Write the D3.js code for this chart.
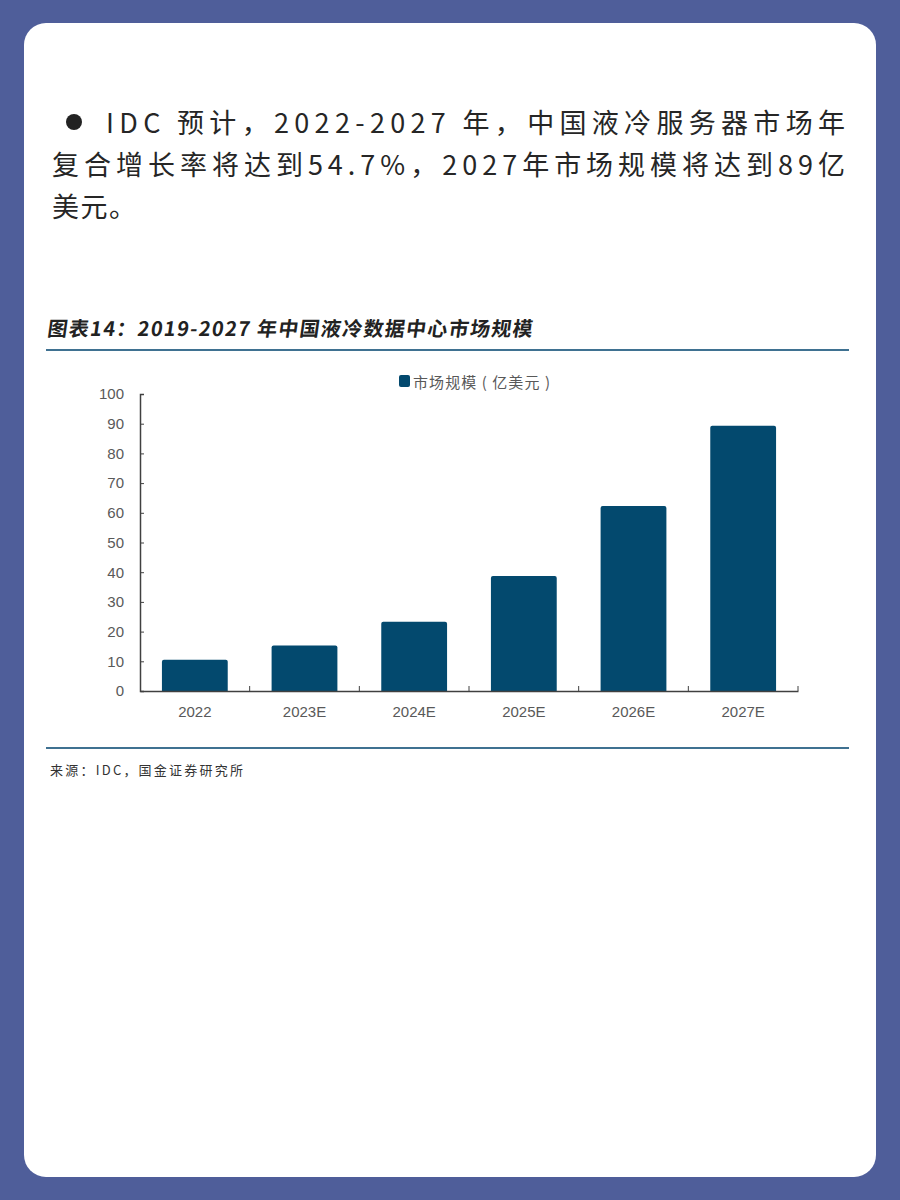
<!DOCTYPE html>
<html>
<head>
  <meta charset="UTF-8">
  <title>液冷数据中心市场规模</title>
  <script src="https://d3js.org/d3.v7.min.js"></script>
  <style>
    body { margin: 0; background: #4f5e9a; }
  </style>
</head>
<body>
  <script>
    // data
    var years = ["2022", "2023E", "2024E", "2025E", "2026E", "2027E"];
    var marketSize = [10.5, 15.3, 23.3, 38.7, 62.3, 89.3];
    var yTicks = [0, 10, 20, 30, 40, 50, 60, 70, 80, 90, 100];
    var introLines = [
      "IDC 预计，2022-2027 年，中国液冷服务器市场年",
      "复合增长率将达到54.7%，2027年市场规模将达到89亿",
      "美元。"
    ];
    var chartTitle = "图表14：2019-2027 年中国液冷数据中心市场规模";
    var legendLabel = "市场规模 ( 亿美元 )";
    var sourceText = "来源：IDC，国金证券研究所";

    var W = 900, H = 1200;
    var cjk = "'Noto Sans CJK SC', 'Noto Sans', sans-serif";
    var latin = "'Liberation Sans', Arial, sans-serif";

    var svg = d3.select("body").append("svg")
      .attr("width", W)
      .attr("height", H);

    svg.append("rect").attr("width", W).attr("height", H).attr("fill", "#4f5e9a");

    // white card
    svg.append("rect")
      .attr("x", 24).attr("y", 23)
      .attr("width", 852).attr("height", 1154)
      .attr("rx", 22)
      .attr("fill", "#ffffff");

    // intro paragraph
    svg.append("circle")
      .attr("cx", 74).attr("cy", 122).attr("r", 8)
      .attr("fill", "#222");

    var introStart = [106, 52, 52];
    var introLen = [739, 793, 84];
    svg.selectAll(".intro")
      .data(introLines)
      .enter()
      .append("text")
      .attr("class", "intro")
      .attr("x", function (d, i) { return introStart[i]; })
      .attr("y", function (d, i) { return 133 + i * 42; })
      .attr("font-family", cjk)
      .attr("font-size", 27)
      .attr("fill", "#262626")
      .attr("textLength", function (d, i) { return introLen[i]; })
      .attr("lengthAdjust", "spacing")
      .text(function (d) { return d; });

    // figure title
    svg.append("text")
      .attr("x", 50).attr("y", 336)
      .attr("font-family", cjk)
      .attr("font-size", 20)
      .attr("font-weight", "bold")
      .attr("transform", "translate(44,0) skewX(-8)")
      .attr("textLength", 485)
      .attr("lengthAdjust", "spacing")
      .attr("fill", "#222")
      .text(chartTitle);

    svg.append("line")
      .attr("x1", 46).attr("x2", 849).attr("y1", 350).attr("y2", 350)
      .attr("stroke", "#3f7191").attr("stroke-width", 2);
    svg.append("line")
      .attr("x1", 46).attr("x2", 849).attr("y1", 748).attr("y2", 748)
      .attr("stroke", "#3f7191").attr("stroke-width", 2);

    svg.append("text")
      .attr("x", 50).attr("y", 775)
      .attr("font-family", cjk)
      .attr("font-size", 13)
      .attr("textLength", 193)
      .attr("lengthAdjust", "spacing")
      .attr("fill", "#333")
      .text(sourceText);

    // chart
    var margin = { left: 140, top: 394 };
    var plotW = 658, plotH = 297;
    var g = svg.append("g")
      .attr("transform", "translate(" + margin.left + "," + margin.top + ")");

    var x = d3.scaleBand().domain(years).range([0, plotW]).paddingInner(0.4).paddingOuter(0.2);
    var y = d3.scaleLinear().domain([0, 100]).range([plotH, 0]);

    var barColor = "#03496e";

    g.selectAll(".bar")
      .data(marketSize)
      .enter()
      .append("path")
      .attr("class", "bar")
      .attr("fill", barColor)
      .attr("d", function (d, i) {
        var x0 = x(years[i]), w = x.bandwidth(), y0 = y(d), r = 2;
        return "M" + x0 + "," + plotH + "V" + (y0 + r) +
          "Q" + x0 + "," + y0 + " " + (x0 + r) + "," + y0 +
          "H" + (x0 + w - r) +
          "Q" + (x0 + w) + "," + y0 + " " + (x0 + w) + "," + (y0 + r) +
          "V" + plotH + "Z";
      });

    var yAxis = g.append("g")
      .call(d3.axisLeft(y).tickValues(yTicks).tickSize(-4).tickPadding(16));
    yAxis.select(".domain").attr("stroke", "#404040").attr("stroke-width", 1.5);
    yAxis.selectAll(".tick line").attr("stroke", "#404040");
    yAxis.selectAll("text")
      .attr("font-family", latin)
      .attr("font-size", 15)
      .attr("fill", "#595959");

    var xAxis = g.append("g")
      .attr("transform", "translate(0," + plotH + ")")
      .call(d3.axisBottom(x).tickSize(0).tickPadding(15));
    xAxis.select(".domain").attr("stroke", "#404040").attr("stroke-width", 1.5);
    xAxis.selectAll("text")
      .attr("font-family", latin)
      .attr("font-size", 15)
      .attr("fill", "#595959");

    // category separators on the x axis
    var sepPos = years.map(function (d) { return x(d) - x.step() * x.paddingInner() / 2 + x.step(); });
    g.selectAll(".sep")
      .data(sepPos)
      .enter()
      .append("line")
      .attr("x1", function (d) { return d; })
      .attr("x2", function (d) { return d; })
      .attr("y1", plotH)
      .attr("y2", plotH - 5)
      .attr("stroke", "#404040");

    // legend
    svg.append("rect")
      .attr("x", 399).attr("y", 375)
      .attr("width", 11).attr("height", 12)
      .attr("rx", 2)
      .attr("fill", barColor);
    svg.append("text")
      .attr("x", 413).attr("y", 388)
      .attr("font-family", cjk)
      .attr("font-size", 15)
      .attr("textLength", 137)
      .attr("lengthAdjust", "spacing")
      .attr("fill", "#595959")
      .text(legendLabel);
  </script>
</body>
</html>
